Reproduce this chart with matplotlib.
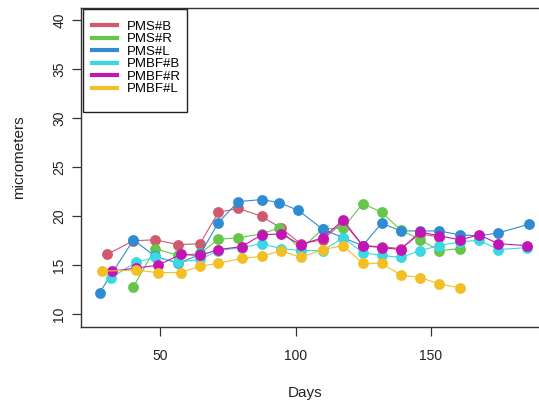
import matplotlib
matplotlib.use("Agg")
import matplotlib.pyplot as plt
from matplotlib.lines import Line2D
from matplotlib.patches import Rectangle

plt.rcParams["font.family"] = ["Liberation Sans", "DejaVu Sans"]

# series data (days, micrometers)
labels = ["PMS#B", "PMS#R", "PMS#L", "PMBF#B", "PMBF#R", "PMBF#L"]
colors = ["#cf5a6e", "#66c64a", "#2f8cd2", "#3ad8e2", "#c414b4", "#f2c024"]

pms_b_days = [30.4, 40.2, 48.2, 56.8, 64.8, 71.5, 78.9, 87.5, 94.6, 101.9, 110.0, 117.6, 124.8, 131.8, 138.8, 146.0, 153.0]
pms_b_vals = [16.1, 17.5, 17.6, 17.1, 17.2, 20.4, 20.8, 20.0, 18.8, 17.2, 17.6, 19.4, 17.0, 16.9, 16.7, 18.2, 17.9]

pms_r_days = [40.2, 48.2, 56.8, 64.8, 71.5, 78.9, 87.5, 93.9, 101.9, 110.0, 117.6, 124.8, 131.8, 138.8, 146.0, 153.0, 160.7]
pms_r_vals = [12.8, 16.7, 16.0, 16.2, 17.65, 17.8, 18.2, 18.8, 16.6, 18.7, 18.8, 21.3, 20.4, 18.6, 17.6, 16.5, 16.7]

pms_l_days = [27.7, 40.2, 48.2, 56.8, 64.8, 71.5, 78.9, 87.5, 93.9, 101.0, 110.0, 117.6, 124.8, 131.8, 138.8, 146.0, 153.0, 160.7, 167.8, 174.8, 186.3]
pms_l_vals = [12.2, 17.6, 15.9, 15.2, 16.1, 19.35, 21.5, 21.7, 21.4, 20.6, 18.7, 17.8, 17.0, 19.3, 18.5, 18.5, 18.5, 18.1, 18.0, 18.3, 19.2]

pmbf_b_days = [31.9, 41.0, 48.2, 56.8, 64.8, 71.5, 80.1, 87.5, 94.6, 101.9, 110.0, 117.6, 124.8, 131.8, 138.8, 146.0, 153.0, 160.7, 167.8, 174.8, 185.3]
pmbf_b_vals = [13.7, 15.3, 15.8, 15.3, 15.6, 16.5, 16.8, 17.2, 16.7, 16.5, 16.5, 17.8, 16.3, 16.0, 15.8, 16.5, 17.0, 17.4, 17.55, 16.6, 16.8]

pmbf_r_days = [32.2, 41.0, 49.2, 57.6, 64.8, 71.5, 80.1, 87.5, 94.6, 101.9, 110.0, 117.6, 124.8, 131.8, 138.8, 146.0, 153.0, 160.7, 167.8, 174.8, 185.3]
pmbf_r_vals = [14.4, 14.7, 15.0, 16.1, 16.0, 16.6, 16.9, 18.1, 18.2, 17.1, 17.8, 19.6, 17.0, 16.8, 16.6, 18.4, 18.0, 17.6, 18.1, 17.2, 17.0]

pmbf_l_days = [28.5, 41.0, 49.2, 57.6, 64.8, 71.5, 80.1, 87.5, 94.6, 101.9, 110.0, 117.6, 124.8, 131.8, 138.8, 146.0, 153.0, 160.7]
pmbf_l_vals = [14.4, 14.5, 14.25, 14.25, 14.9, 15.2, 15.7, 15.9, 16.5, 15.8, 16.6, 17.0, 15.2, 15.2, 14.0, 13.75, 13.1, 12.7]

x_ticks = [50, 100, 150]
y_ticks = [10, 15, 20, 25, 30, 35, 40]

series = [
    (pms_b_days, pms_b_vals),
    (pms_r_days, pms_r_vals),
    (pms_l_days, pms_l_vals),
    (pmbf_b_days, pmbf_b_vals),
    (pmbf_r_days, pmbf_r_vals),
    (pmbf_l_days, pmbf_l_vals),
]

W, H = 539, 408
fig = plt.figure(figsize=(W / 100, H / 100), dpi=100)
# plot box runs a little past the right edge, like the cropped original
left, right, top, bottom = 81, 547, 8, 327
ax = fig.add_axes([left / W, 1 - bottom / H, (right - left) / W, (bottom - top) / H])

for (d, v), c in zip(series, colors):
    ax.plot(d, v, color=c, lw=0.8, marker="o", markersize=7.8,
            markeredgewidth=0, zorder=3)

ax.set_xlim(20.85, 192.8)
ax.set_ylim(8.7, 41.25)
ax.set_xticks(x_ticks)
ax.set_yticks(y_ticks)

for s in ax.spines.values():
    s.set_color("#333333")
    s.set_linewidth(1.0)

ax.tick_params(axis="both", direction="out", length=6.5, width=0.9,
               color="#333333", labelsize=10, labelcolor="#222222")
ax.tick_params(axis="x", pad=9)
ax.tick_params(axis="y", pad=4, labelrotation=90)
for lab in ax.get_yticklabels():
    lab.set_va("center")

ax.set_xlabel("Days", fontsize=11, color="#222222")
ax.xaxis.set_label_coords((305 - left) / (right - left), -(393 - bottom) / (bottom - top))
ax.set_ylabel("micrometers", fontsize=11, color="#222222")
ax.yaxis.set_label_coords(-(81 - 19) / (right - left), (bottom - 157) / (bottom - top))
ax.xaxis.label.set_va("center")
ax.yaxis.label.set_va("center")

# legend box drawn separately (R puts more room under the last row)
fig.patches.append(Rectangle((83 / W, 1 - 112 / H), (187 - 83) / W, (112 - 9) / H,
                             transform=fig.transFigure, facecolor="white",
                             edgecolor="#222222", linewidth=1.0, zorder=5))
handles = [Line2D([0], [0], color=c, lw=3) for c in colors]
leg = fig.legend(handles, labels, loc="upper left",
                 bbox_to_anchor=(92 / W, 1 - 20.5 / H), bbox_transform=fig.transFigure,
                 borderaxespad=0, borderpad=0, fontsize=9.5, handlelength=1.9,
                 handletextpad=0.76, labelspacing=0.02, frameon=False)
leg.set_zorder(6)

fig.savefig("out.png", dpi=100)
